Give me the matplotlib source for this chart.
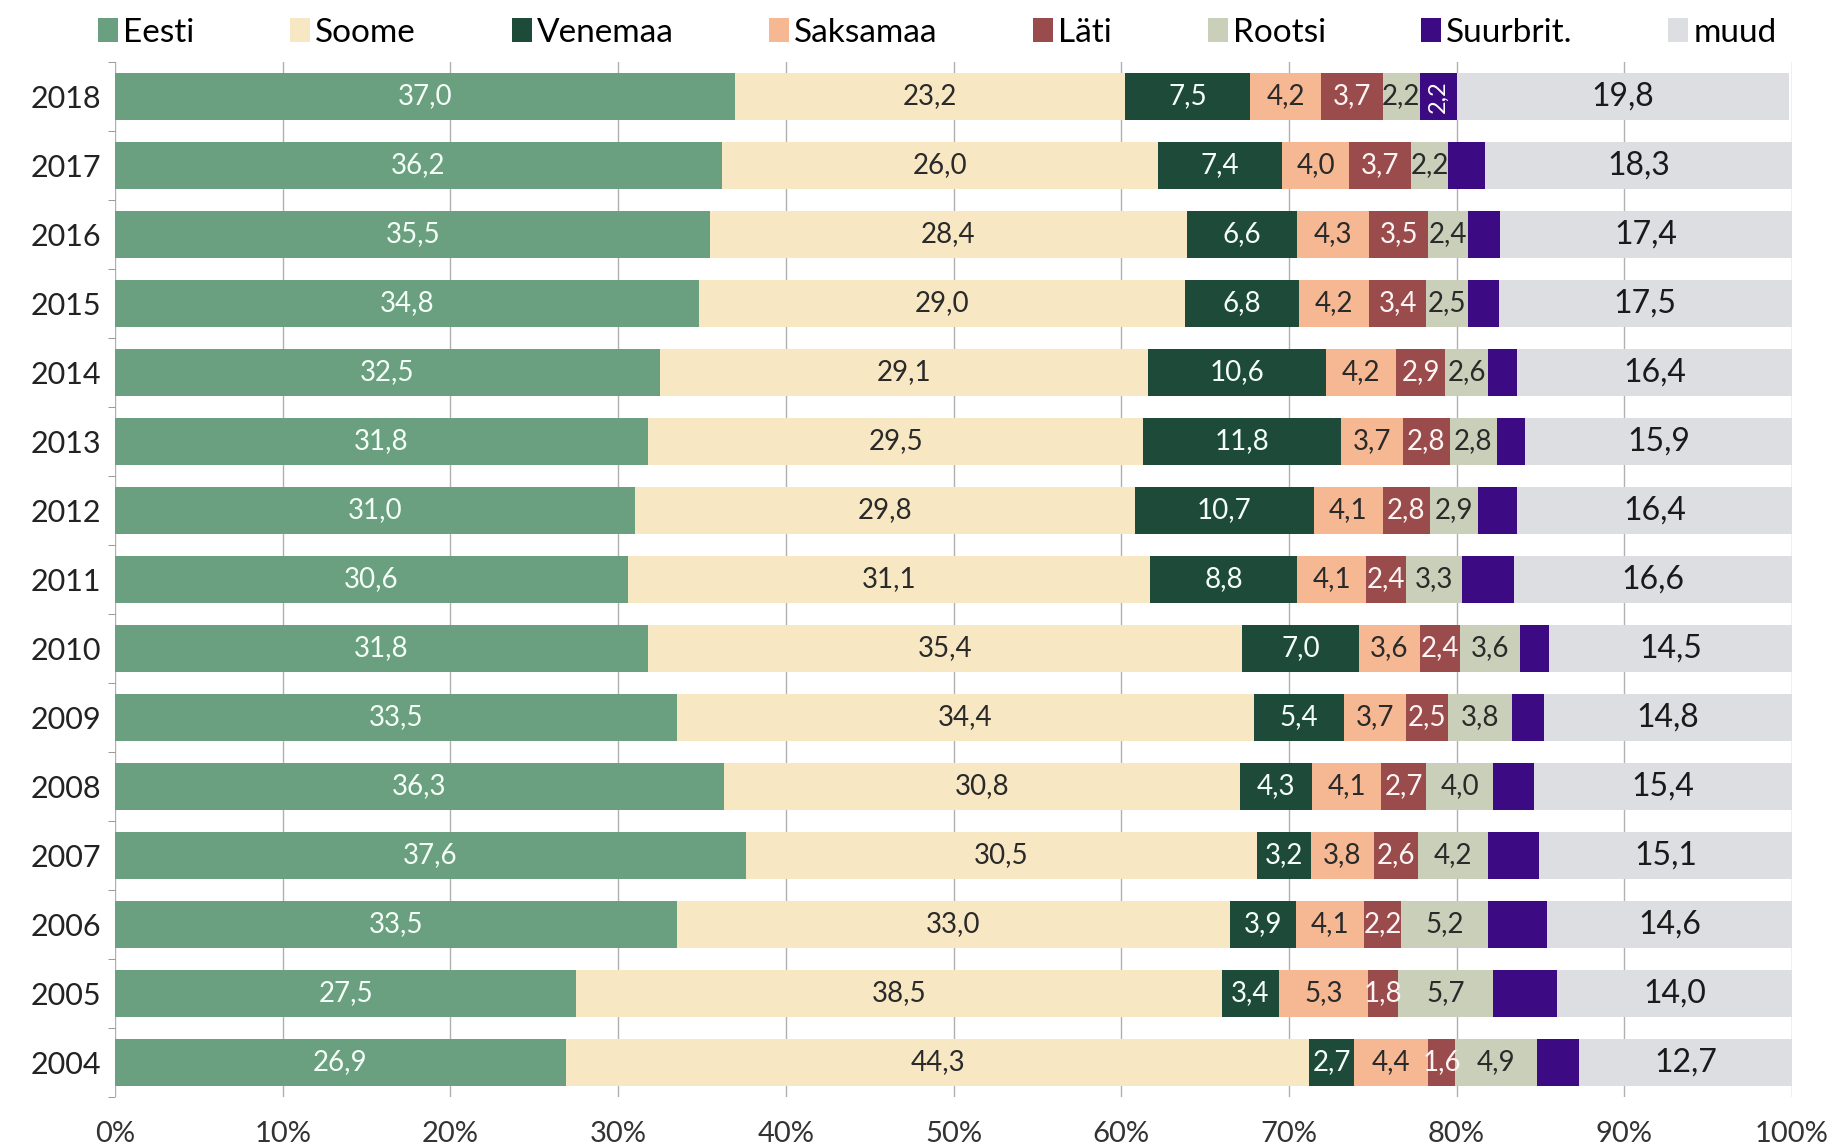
import numpy as np
import matplotlib.pyplot as plt
from matplotlib.patches import Patch

plt.rcParams['font.family'] = ['Lato', 'DejaVu Sans']

years = [2018, 2017, 2016, 2015, 2014, 2013, 2012, 2011, 2010, 2009, 2008, 2007, 2006, 2005, 2004]
eesti = [37.0, 36.2, 35.5, 34.8, 32.5, 31.8, 31.0, 30.6, 31.8, 33.5, 36.3, 37.6, 33.5, 27.5, 26.9]
soome = [23.2, 26.0, 28.4, 29.0, 29.1, 29.5, 29.8, 31.1, 35.4, 34.4, 30.8, 30.5, 33.0, 38.5, 44.3]
venemaa = [7.5, 7.4, 6.6, 6.8, 10.6, 11.8, 10.7, 8.8, 7.0, 5.4, 4.3, 3.2, 3.9, 3.4, 2.7]
saksamaa = [4.2, 4.0, 4.3, 4.2, 4.2, 3.7, 4.1, 4.1, 3.6, 3.7, 4.1, 3.8, 4.1, 5.3, 4.4]
lati = [3.7, 3.7, 3.5, 3.4, 2.9, 2.8, 2.8, 2.4, 2.4, 2.5, 2.7, 2.6, 2.2, 1.8, 1.6]
rootsi = [2.2, 2.2, 2.4, 2.5, 2.6, 2.8, 2.9, 3.3, 3.6, 3.8, 4.0, 4.2, 5.2, 5.7, 4.9]
suurbrit = [2.2, 2.2, 1.9, 1.8, 1.7, 1.7, 2.3, 3.1, 1.7, 1.9, 2.4, 3.0, 3.5, 3.8, 2.5]
muud = [19.8, 18.3, 17.4, 17.5, 16.4, 15.9, 16.4, 16.6, 14.5, 14.8, 15.4, 15.1, 14.6, 14.0, 12.7]

names = ['Eesti', 'Soome', 'Venemaa', 'Saksamaa', 'Läti', 'Rootsi', 'Suurbrit.', 'muud']
series = [eesti, soome, venemaa, saksamaa, lati, rootsi, suurbrit, muud]
colors = ['#6a9f80', '#f8e7c3', '#1e4a3a', '#f5b893', '#9a4b4b', '#c9cfb8', '#3c0a82', '#dddee2']
txtcol = ['#f4fff8', '#2a2a2a', '#f4fff8', '#2a2a2a', '#fff4f4', '#2a2a2a', '#ffffff', '#1a1a1a']

fig = plt.figure(figsize=(18.4, 11.47), dpi=100)
ax = fig.add_axes([115/1840, 1 - 1097/1147, (1792-115)/1840, (1097-62)/1147])

y = np.arange(len(years))
left = np.zeros(len(years))
for k, (name, vals) in enumerate(zip(names, series)):
    vals = np.array(vals)
    ax.barh(y, vals, left=left, height=0.68, color=colors[k], zorder=2, label=name)
    for i, v in enumerate(vals):
        cx = left[i] + v / 2
        s = f"{v:.1f}".replace('.', ',')
        if name == 'Suurbrit.':
            if years[i] == 2018:
                ax.text(cx, i, s, rotation=90, ha='center', va='center', color='white',
                        fontsize=17, zorder=3)
            continue
        fs = 23 if name == 'muud' else 20
        ax.text(cx, i, s, ha='center', va='center', color=txtcol[k], fontsize=fs, zorder=3)
    left += vals

ax.set_xlim(0, 100)
ax.set_ylim(len(years) - 0.5, -0.5)
ax.set_yticks(y)
ax.set_yticklabels([str(v) for v in years], fontsize=22, color='#222222')
ax.set_yticks(np.arange(-0.5, len(years), 1), minor=True)
ax.tick_params(axis='y', which='major', length=0, pad=10)
ax.tick_params(axis='y', which='minor', length=5, color='#888888')
ax.set_xticks(np.arange(0, 101, 10))
ax.set_xticklabels([f"{v}%" for v in range(0, 101, 10)], fontsize=21, color='#333333')
ax.tick_params(axis='x', length=0, pad=17)
ax.grid(axis='x', color='#b0b0b0', linewidth=1, zorder=0)
for sp in ax.spines.values():
    sp.set_visible(False)

handles = [Patch(facecolor=c, label=n) for c, n in zip(colors, names)]
fig.legend(handles=handles, loc='center', bbox_to_anchor=(85/1840, 1 - 50/1147, (1790-85)/1840, 0.03),
           ncol=8, mode='expand', frameon=False, fontsize=24, handlelength=0.6, handleheight=0.75,
           handletextpad=0.15, borderaxespad=0)

fig.savefig('out.png', dpi=100)
